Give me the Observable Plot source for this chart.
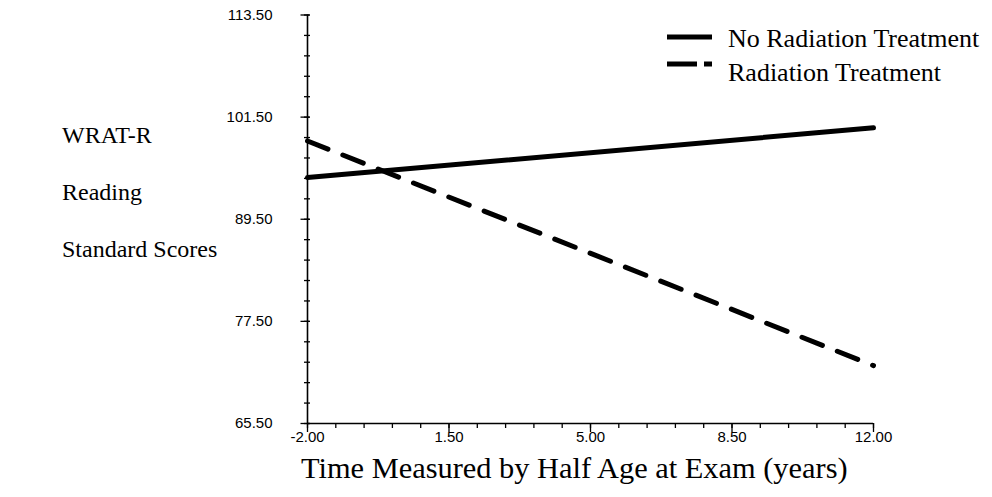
<!DOCTYPE html>
<html>
<head>
<meta charset="utf-8">
<script src="https://cdn.jsdelivr.net/npm/d3@7"></script>
<script src="https://cdn.jsdelivr.net/npm/@observablehq/plot@0.6"></script>
<style>
  html, body { margin: 0; padding: 0; background: #fff; }
  #wrap { position: relative; width: 992px; height: 497px; overflow: hidden; }
  #overlay { position: absolute; left: 0; top: 0; pointer-events: none; }
  .serif { font-family: "Liberation Serif", "Times New Roman", Times, serif; fill: #000; }
</style>
</head>
<body>
<div id="wrap"></div>
<script>
// ---- data ----
const time = [-2, 12];
const noRadiation = [94.4, 100.25];
const radiation = [98.7, 72.3];
const seriesNames = ["No Radiation Treatment", "Radiation Treatment"];

const xTicks = [-2, 1.5, 5, 8.5, 12];
const yTicks = [65.5, 77.5, 89.5, 101.5, 113.5];
const xMinor = d3.range(-2, 12.001, 0.7);
const yMinor = d3.range(65.5, 113.501, 2.4);

const yLabelLines = ["WRAT-R", "Reading", "Standard Scores"];
const xTitle = "Time Measured by Half Age at Exam (years)";

const rows = time.map((t, i) => ({t, noRad: noRadiation[i], rad: radiation[i]}));
const fmt = d => d.toFixed(2);

const chart = Plot.plot({
  width: 992,
  height: 497,
  marginLeft: 307,
  marginRight: 119,
  marginTop: 14.5,
  marginBottom: 74,
  x: {domain: [-2, 12]},
  y: {domain: [65.5, 113.5]},
  style: {fontFamily: "'Liberation Sans', Arial, sans-serif", fontSize: "15px", color: "#000", background: "#fff"},
  marks: [
    // x axis
    Plot.axisX({ticks: xMinor, tickSize: 5, text: null, label: null, strokeWidth: 1.3}),
    Plot.axisX({ticks: xTicks, tickSize: 9, text: null, label: null, strokeWidth: 1.3}),
    Plot.axisX({ticks: xTicks, tickSize: 0, tickPadding: 8, tickFormat: fmt, label: null, fontSize: 15}),
    // y axis
    Plot.axisY({ticks: yMinor, tickSize: 6, dx: 3, text: null, label: null, strokeWidth: 1.3}),
    Plot.axisY({ticks: yTicks, tickSize: 9, dx: 2.5, text: null, label: null, strokeWidth: 1.3}),
    Plot.axisY({ticks: yTicks, tickSize: 0, tickPadding: 35, tickFormat: fmt, label: null, fontSize: 15}),
    Plot.ruleX([-2], {y1: 65.5, y2: 113.5, strokeWidth: 1.6}),
    Plot.ruleY([65.5], {x1: -2, x2: 12, strokeWidth: 1.6}),
    // series
    Plot.line(rows, {x: "t", y: "noRad", stroke: "#000", strokeWidth: 5}),
    Plot.line(rows, {x: "t", y: "rad", stroke: "#000", strokeWidth: 5, strokeDasharray: "22,16"})
  ]
});

const wrap = document.getElementById("wrap");
wrap.appendChild(chart);

// overlay: y label, x title, legend
const ov = d3.select(wrap).append("svg")
  .attr("id", "overlay")
  .attr("width", 992).attr("height", 497);

ov.selectAll("text.ylab")
  .data(yLabelLines)
  .join("text")
  .attr("class", "serif ylab")
  .attr("x", 62)
  .attr("y", (d, i) => 143 + i * 57)
  .attr("font-size", 24)
  .text(d => d);

ov.append("text")
  .attr("class", "serif")
  .attr("x", 301)
  .attr("y", 478)
  .attr("font-size", 30.4)
  .text(xTitle);

const leg = ov.append("g");
seriesNames.forEach((name, i) => {
  const y = 37 + i * 27;
  leg.append("line")
    .attr("x1", 667).attr("x2", 712)
    .attr("y1", y).attr("y2", y)
    .attr("stroke", "#000").attr("stroke-width", 5)
    .attr("stroke-dasharray", i === 1 ? "30,7" : null);
  leg.append("text")
    .attr("class", "serif")
    .attr("x", 728)
    .attr("y", 47 + i * 34)
    .attr("font-size", 26)
    .text(name);
});
</script>
</body>
</html>
